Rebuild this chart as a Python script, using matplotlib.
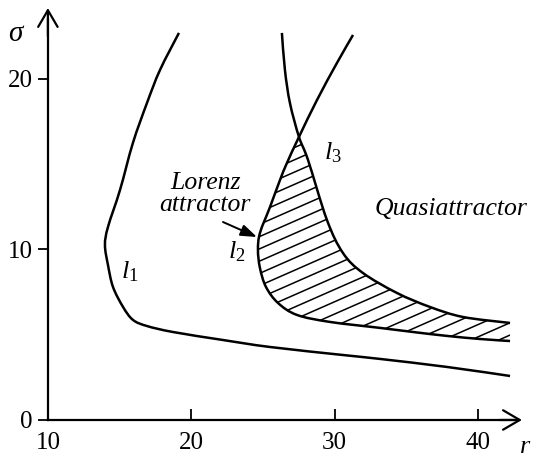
import numpy as np
import matplotlib.pyplot as plt
from matplotlib.path import Path
from matplotlib.patches import PathPatch

plt.rcParams['font.family'] = 'Liberation Serif'
plt.rcParams['mathtext.fontset'] = 'custom'
plt.rcParams['mathtext.rm'] = 'Liberation Serif'
plt.rcParams['mathtext.it'] = 'Liberation Serif:italic'

# curves (r, sigma)
l1_r = [19.14, 17.82, 16.91, 15.93, 15.03, 14.19, 13.98, 14.19, 14.54, 15.24,
        15.93, 16.91, 18.72, 22.21, 25.49, 30.58, 33.16, 37.83, 42.23]
l1_s = [22.70, 20.53, 18.59, 16.25, 13.49, 11.32, 10.26, 9.09, 7.80, 6.63,
        5.87, 5.51, 5.16, 4.69, 4.28, 3.81, 3.58, 3.11, 2.58]

l2_r = [31.28, 30.16, 28.77, 27.51, 26.67, 26.19, 25.49, 24.79, 24.65, 24.79,
        25.21, 26.05, 27.37, 29.67, 33.16, 35.46, 37.83, 40.13, 42.23]
l2_s = [22.58, 20.94, 18.77, 16.60, 15.07, 14.08, 12.49, 10.97, 9.97, 8.91,
        7.80, 6.86, 6.16, 5.75, 5.40, 5.16, 4.93, 4.75, 4.63]

l3_r = [26.32, 26.53, 26.88, 27.51, 28.14, 29.46, 30.58, 31.97, 34.34, 36.64,
        38.95, 42.23]
l3_s = [22.70, 20.53, 18.59, 16.60, 15.25, 11.73, 9.79, 8.62, 7.45, 6.63,
        6.04, 5.69]

x_ticks = [10, 20, 30, 40]
y_ticks = [0, 10, 20]


def smooth(xs, ys):
    # Catmull-Rom through the read points, drawn as cubic Bezier pieces
    p = np.column_stack([xs, ys])
    verts, codes = [p[0]], [Path.MOVETO]
    n = len(p)
    for i in range(n - 1):
        p0 = p[i - 1] if i > 0 else p[i]
        p1, p2 = p[i], p[i + 1]
        p3 = p[i + 2] if i + 2 < n else p[i + 1]
        verts += [p1 + (p2 - p0) / 6, p2 - (p3 - p1) / 6, p2]
        codes += [Path.CURVE4] * 3
    return verts, codes


fig = plt.figure(figsize=(5.36, 4.58), dpi=100)
ax = fig.add_axes([0, 0, 1, 1])
ax.set_xlim(6.66, 44.04)
ax.set_ylim(-2.23, 24.63)
ax.patch.set_alpha(0)

for s in ['top', 'right']:
    ax.spines[s].set_visible(False)
ax.spines['left'].set_position(('data', 10))
ax.spines['bottom'].set_position(('data', 0))
ax.spines['left'].set_bounds(0, 23.5)
ax.spines['bottom'].set_bounds(10, 42.5)
ax.spines['left'].set_linewidth(1.6)
ax.spines['bottom'].set_linewidth(1.6)

ax.set_xticks(x_ticks)
ax.set_yticks(y_ticks)
ax.tick_params(axis='x', direction='in', length=8, width=1.3, pad=9, labelsize=18)
ax.tick_params(axis='y', direction='out', length=7, width=1.3, pad=4, labelsize=18)

arr = dict(arrowstyle='->,head_length=0.6,head_width=0.35', lw=1.6,
           mutation_scale=20, color='black', shrinkA=0, shrinkB=0)
ax.annotate('', xy=(43.06, 0), xytext=(41.5, 0), arrowprops=arr)
ax.annotate('', xy=(10, 24.16), xytext=(10, 22.5), arrowprops=arr)

lw = 1.8
for xs, ys in [(l1_r, l1_s), (l2_r, l2_s), (l3_r, l3_s)]:
    v, c = smooth(xs, ys)
    ax.add_patch(PathPatch(Path(v, c), fill=False, lw=lw, edgecolor='black',
                           capstyle='butt'))

# hatched region between l2 and l3 below their crossing
s_cross = 16.60
top = [(r, s) for r, s in zip(l3_r, l3_s) if s <= s_cross]
bot = [(r, s) for r, s in zip(l2_r, l2_s) if s <= s_cross][::-1]
tv, tc = smooth(*zip(*top))
bv, bc = smooth(*zip(*bot))
bc[0] = Path.LINETO
clip = PathPatch(Path(tv + bv + [tv[0]], tc + bc + [Path.CLOSEPOLY]),
                 fill=False, edgecolor='none')
ax.add_patch(clip)

k = 0.37
pts = np.array(top + bot)
b = pts[:, 1] - k * pts[:, 0]
rr = np.array([20, 46])
for b0 in np.arange(b.min() + 0.35, b.max(), 0.72):
    ln, = ax.plot(rr, b0 + k * rr, color='black', lw=1.1)
    ln.set_clip_path(clip)

ax.text(7.85, 22.64, r'$\sigma$', fontsize=21, ha='center', va='center')
ax.text(43.3, -1.6, 'r', fontsize=19, style='italic', ha='center', va='center')

ax.text(15.72, 8.68, r'$l_1$', fontsize=19, ha='center', va='center')
ax.text(23.19, 9.85, r'$l_2$', fontsize=19, ha='center', va='center')
ax.text(29.88, 15.66, r'$l_3$', fontsize=19, ha='center', va='center')

ax.text(20.96, 13.25, 'Lorenz\nattractor', fontsize=18.5, style='italic',
        ha='center', va='center', linespacing=0.95)
ax.text(38.11, 12.38, 'Quasiattractor', fontsize=18.5, style='italic',
        ha='center', va='center')

ax.annotate('', xy=(24.58, 10.73), xytext=(22.21, 11.61),
            arrowprops=dict(arrowstyle='-|>,head_length=0.7,head_width=0.25',
                            lw=1.4, mutation_scale=14, color='black',
                            shrinkA=0, shrinkB=0))

plt.savefig('out.png', dpi=100)
plt.close()
